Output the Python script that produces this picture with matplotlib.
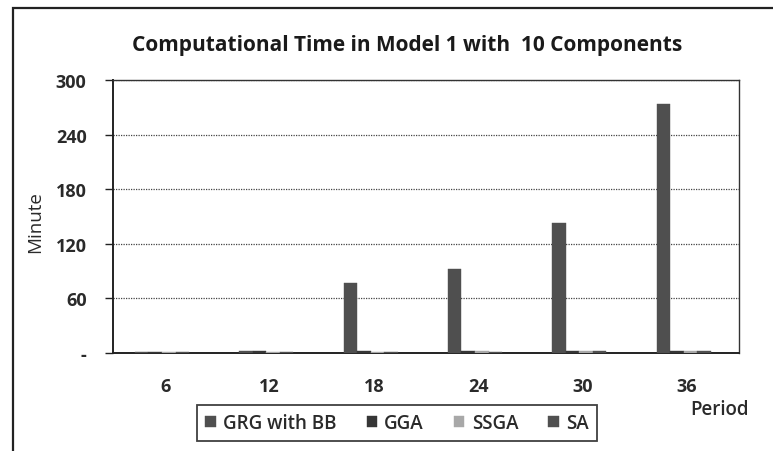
import matplotlib
matplotlib.use("Agg")
import matplotlib.pyplot as plt
import numpy as np
from matplotlib.patches import Rectangle

plt.rcParams['font.family'] = ['Open Sans', 'DejaVu Sans']

periods = ["6", "12", "18", "24", "30", "36"]
series_names = ["GRG with BB", "GGA", "SSGA", "SA"]
grg_bb = [1.5, 1.8, 77, 92, 143, 274]
gga = [1.6, 1.8, 1.9, 2.0, 2.1, 2.2]
ssga = [1.4, 1.5, 1.6, 1.7, 1.8, 1.9]
sa = [1.2, 1.3, 1.5, 1.6, 1.7, 1.8]
y_ticks = [0, 60, 120, 180, 240, 300]
y_tick_labels = ["-", "60", "120", "180", "240", "300"]

colors = ["#4f4f4f", "#363636", "#a8a8a8", "#505050"]
values = [grg_bb, gga, ssga, sa]

fig = plt.figure(figsize=(7.73, 4.52), dpi=100)
ax = fig.add_axes([113/773, 1 - 354/452, 626/773, 273/452])

# outer chart frame (runs off the right and bottom edges)
fig.patches.append(Rectangle((13/773, -0.1), 1.0, 1 - 9/452 + 0.1,
                             transform=fig.transFigure, fill=False,
                             edgecolor="#222222", linewidth=1.6))

x = np.arange(len(periods))
w = 0.13
for i, (name, vals, c) in enumerate(zip(series_names, values, colors)):
    ax.bar(x + (i - 1.5) * w - 0.03, vals, width=w, color=c, label=name,
           edgecolor=c, linewidth=0.3, zorder=3)

ax.set_xlim(-0.5, len(periods) - 0.5)
ax.set_ylim(0, 300)
ax.set_yticks(y_ticks)
ax.set_yticklabels(y_tick_labels, fontweight="bold", fontsize=13, color="#2a2a2a")
ax.set_xticks(x)
ax.set_xticklabels(periods, fontweight="bold", fontsize=13, color="#2a2a2a")
ax.tick_params(axis="y", direction="out", length=6, width=1, pad=13, color="#222222")
ax.tick_params(axis="x", length=0, pad=17)
ax.yaxis.grid(True, linestyle=(0, (1, 1)), color="#444444", linewidth=0.9, zorder=0)

for side in ["left", "bottom"]:
    ax.spines[side].set_linewidth(1.4)
    ax.spines[side].set_color("#222222")
for side in ["top", "right"]:
    ax.spines[side].set_linewidth(1.0)
    ax.spines[side].set_color("#333333")

fig.text(35/773, 1 - 222/452, "Minute", rotation=90, ha="center", va="center",
         fontsize=13.5, color="#2a2a2a")
fig.text(407/773, 1 - 45/452, "Computational Time in Model 1 with  10 Components",
         ha="center", va="center", fontsize=15, fontweight="bold", color="#1a1a1a")
fig.text(719/773, 1 - 410/452, "Period", ha="center", va="center",
         fontsize=13.5, fontweight="semibold", color="#2a2a2a")

leg = fig.legend(loc="center", bbox_to_anchor=(397/773, 1 - 424/452), ncol=4,
                 fontsize=13.5, frameon=True, fancybox=False, edgecolor="#111111",
                 handlelength=0.55, handleheight=0.55, handletextpad=0.4,
                 columnspacing=1.6, borderpad=0.45, borderaxespad=0)
leg.get_frame().set_linewidth(1.3)
for t in leg.get_texts():
    t.set_fontweight("semibold")
    t.set_color("#2a2a2a")

fig.savefig("out.png", dpi=100)
